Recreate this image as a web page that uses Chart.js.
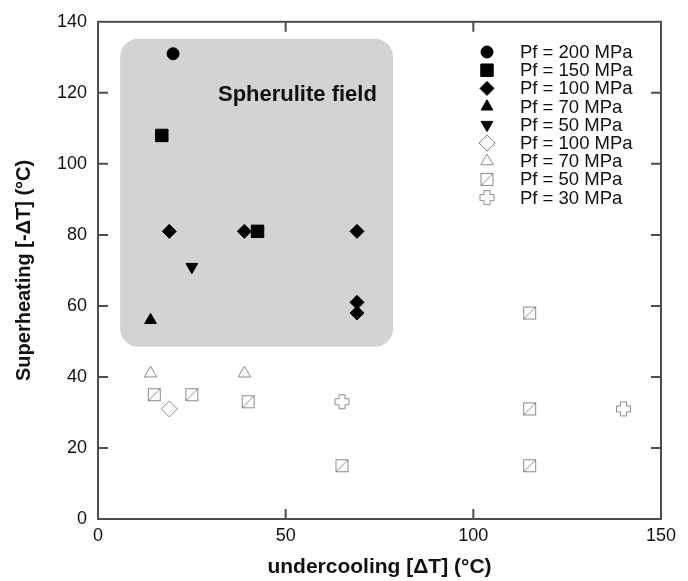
<!DOCTYPE html>
<html>
<head>
<meta charset="utf-8">
<script src="https://cdn.jsdelivr.net/npm/chart.js@4.4.1/dist/chart.umd.min.js"></script>
<style>
  html, body { margin: 0; padding: 0; background: #fff; }
</style>
</head>
<body>
<canvas id="chart" width="688" height="581"></canvas>
<script>
"use strict"
// [undercooling, superheating] pairs
// filled symbols sit inside the spherulite field, open ones below it
const pf200Filled = [[20, 131]];
const pf150Filled = [[17, 108], [42.5, 81]];
const pf100Filled = [[19, 81], [39, 81], [69, 81], [69, 61], [69, 58]];
const pf70Filled = [[14, 56]];
const pf50Filled = [[25, 71]];
const pf100Open = [[19, 31]];
const pf70Open = [[14, 41], [39, 41]];
const pf50Open = [[15, 35], [25, 35], [40, 33], [65, 15], [115, 58], [115, 31], [115, 15]];
const pf30Open = [[65, 33], [140, 31]];

const seriesLabels = [
    "Pf = 200 MPa", "Pf = 150 MPa", "Pf = 100 MPa", "Pf = 70 MPa", "Pf = 50 MPa",
    "Pf = 100 MPa", "Pf = 70 MPa", "Pf = 50 MPa", "Pf = 30 MPa",
];

// spherulite field corners in data units
const fieldX = [5.9, 78.6];
const fieldY = [48.5, 135.2];
const fieldLabel = "Spherulite field";

const FONT = "'Liberation Sans', Arial, Helvetica, sans-serif";
const GREY = "#8a8a8a";
const AXIS = "#4d4d4d";

function slashSquare() {
    const c = document.createElement("canvas");
    c.width = 15;
    c.height = 15;
    const g = c.getContext("2d");
    g.fillStyle = "#fff";
    g.fillRect(1, 1, 13, 13);
    g.strokeStyle = GREY;
    g.lineWidth = 1;
    g.strokeRect(1.5, 1.5, 12, 12);
    g.beginPath();
    g.moveTo(2, 13);
    g.lineTo(13, 2);
    g.stroke();
    return c;
}

function openCross() {
    const c = document.createElement("canvas");
    c.width = 17;
    c.height = 17;
    const g = c.getContext("2d");
    const m = 8.5, a = 3, e = 7;
    const pts = [
        [m - a, m - e], [m + a, m - e], [m + a, m - a], [m + e, m - a],
        [m + e, m + a], [m + a, m + a], [m + a, m + e], [m - a, m + e],
        [m - a, m + a], [m - e, m + a], [m - e, m - a], [m - a, m - a],
    ];
    g.beginPath();
    pts.forEach((p, i) => (i ? g.lineTo(p[0], p[1]) : g.moveTo(p[0], p[1])));
    g.closePath();
    g.fillStyle = "#fff";
    g.fill();
    g.strokeStyle = GREY;
    g.lineWidth = 1;
    g.stroke();
    return c;
}

const toPoints = (arr) => arr.map((p) => ({ x: p[0], y: p[1] }));

function filled(label, data, style, radius, rotation) {
    return {
        label: label,
        data: toPoints(data),
        pointStyle: style,
        pointRadius: radius,
        pointHoverRadius: radius,
        pointRotation: rotation || 0,
        backgroundColor: "#000",
        borderColor: "#000",
        borderWidth: 1,
    };
}

function open(label, data, style, radius) {
    return {
        label: label,
        data: toPoints(data),
        pointStyle: style,
        pointRadius: radius,
        pointHoverRadius: radius,
        pointRotation: 0,
        backgroundColor: "#fff",
        borderColor: GREY,
        borderWidth: 1,
    };
}

const datasets = [
    filled(seriesLabels[0], pf200Filled, "circle", 6),
    filled(seriesLabels[1], pf150Filled, "rect", 8.8),
    filled(seriesLabels[2], pf100Filled, "rectRot", 7),
    filled(seriesLabels[3], pf70Filled, "triangle", 6.8),
    filled(seriesLabels[4], pf50Filled, "triangle", 6.8, 180),
    open(seriesLabels[5], pf100Open, "rectRot", 8),
    open(seriesLabels[6], pf70Open, "triangle", 7.2),
    open(seriesLabels[7], pf50Open, slashSquare(), 7),
    open(seriesLabels[8], pf30Open, openCross(), 8),
];

const fieldPlugin = {
    id: "field",
    beforeDatasetsDraw(chart) {
        const { ctx, scales: { x, y } } = chart;
        const x0 = x.getPixelForValue(fieldX[0]);
        const x1 = x.getPixelForValue(fieldX[1]);
        const y0 = y.getPixelForValue(fieldY[1]);
        const y1 = y.getPixelForValue(fieldY[0]);
        ctx.save();
        ctx.fillStyle = "#d3d3d3";
        ctx.beginPath();
        ctx.roundRect(x0, y0, x1 - x0, y1 - y0, 18);
        ctx.fill();
        ctx.font = "bold 22px " + FONT;
        ctx.fillStyle = "#111";
        ctx.textAlign = "right";
        ctx.textBaseline = "middle";
        ctx.fillText(fieldLabel, x.getPixelForValue(74.3), y.getPixelForValue(119.5));
        ctx.restore();
    },
};

const framePlugin = {
    id: "frame",
    afterDraw(chart) {
        const { ctx, chartArea: a, scales: { x, y } } = chart;
        ctx.save();
        ctx.strokeStyle = AXIS;
        ctx.lineWidth = 2;
        ctx.strokeRect(a.left, a.top, a.right - a.left, a.bottom - a.top);
        ctx.beginPath();
        x.ticks.forEach((t) => {
            if (t.value === x.min || t.value === x.max) return;
            const px = x.getPixelForValue(t.value);
            ctx.moveTo(px, a.bottom);
            ctx.lineTo(px, a.bottom - 10);
            ctx.moveTo(px, a.top);
            ctx.lineTo(px, a.top + 10);
        });
        y.ticks.forEach((t) => {
            if (t.value === y.min || t.value === y.max) return;
            const py = y.getPixelForValue(t.value);
            ctx.moveTo(a.left, py);
            ctx.lineTo(a.left + 10, py);
            ctx.moveTo(a.right, py);
            ctx.lineTo(a.right - 10, py);
        });
        ctx.stroke();
        ctx.restore();
    },
};

const legendPlugin = {
    id: "insideLegend",
    afterDatasetsDraw(chart) {
        const ctx = chart.ctx;
        ctx.save();
        chart.data.datasets.forEach((ds, i) => {
            const yy = 52 + i * 18.2;
            ctx.save();
            ctx.fillStyle = ds.backgroundColor;
            ctx.strokeStyle = ds.borderColor;
            ctx.lineWidth = ds.borderWidth;
            Chart.helpers.drawPoint(ctx, {
                pointStyle: ds.pointStyle,
                rotation: ds.pointRotation,
                radius: ds.pointRadius,
                borderWidth: ds.borderWidth,
            }, 487, yy);
            ctx.restore();
            ctx.font = "18.5px " + FONT;
            ctx.fillStyle = "#111";
            ctx.textBaseline = "middle";
            ctx.textAlign = "left";
            ctx.fillText(ds.label, 520, yy + 1);
        });
        ctx.restore();
    },
};

Chart.defaults.font.family = FONT;

let myChart = new Chart(document.getElementById("chart"), {
    type: "scatter",
    data: { datasets: datasets },
    plugins: [fieldPlugin, framePlugin, legendPlugin],
    options: {
        responsive: false,
        animation: false,
        devicePixelRatio: 1,
        layout: { padding: { top: 20, right: 27, bottom: 0, left: 0 } },
        plugins: {
            legend: { display: false },
            tooltip: { enabled: false },
        },
        scales: {
            x: {
                type: "linear",
                min: 0,
                max: 150,
                ticks: { stepSize: 50, padding: 6, color: "#111", font: { size: 18 } },
                grid: { display: false, drawTicks: false },
                border: { display: false },
                title: {
                    display: true,
                    text: "undercooling [ΔT] (°C)",
                    color: "#111",
                    font: { size: 21, weight: "bold" },
                    padding: { top: 0, bottom: 1 },
                },
                afterFit: (scale) => { scale.height = 62; },
            },
            y: {
                type: "linear",
                min: 0,
                max: 140,
                ticks: { stepSize: 20, padding: 11, color: "#111", font: { size: 18 } },
                grid: { display: false, drawTicks: false },
                border: { display: false },
                title: {
                    display: true,
                    text: "Superheating [-ΔT] (°C)",
                    color: "#111",
                    font: { size: 20, weight: "bold" },
                    padding: { top: 12, bottom: 0 },
                },
                afterFit: (scale) => { scale.width = 98; },
            },
        },
    },
});
</script>
</body>
</html>
